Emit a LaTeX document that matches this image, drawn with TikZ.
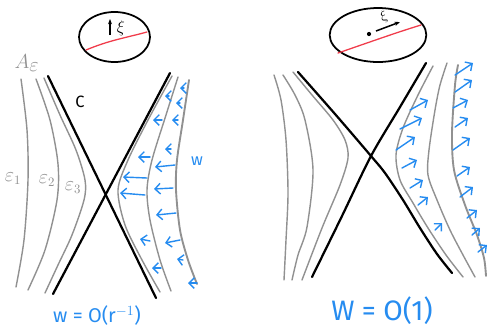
\documentclass[tikz,border=0pt]{standalone}
\usepackage{fontspec}
\setmainfont{Fira Sans}
\usetikzlibrary{arrows.meta, shapes.geometric}
\definecolor{flowblue}{RGB}{38,140,240}
\definecolor{levelgray}{RGB}{145,145,145}
\definecolor{cutred}{RGB}{240,60,75}

\begin{document}
\begin{tikzpicture}[x=0.03cm, y=-0.03cm,
    lens/.style={ellipse, draw, line width=1.5pt, inner sep=0pt},
    cut/.style={cutred, line width=1.1pt, line cap=round},
    horizon/.style={line width=1.9pt, line cap=round},
    level/.style={levelgray, line width=1.2pt, line cap=round},
    flow/.style={flowblue, line width=1.2pt, line cap=round, -{Straight Barb[length=1.6mm, width=3.2mm]}},
    graylabel/.style={levelgray, font=\fontsize{16}{18}\selectfont},
    bluelabel/.style={flowblue, font=\fontsize{17}{20}\selectfont}
]
    \useasboundingbox (0,0) rectangle (489,328);

    % Left: lens with cut and xi
    \node[lens, minimum width=2.13cm, minimum height=1.5cm] (lensL) at (114.5,37) {};
    \draw[cut] (86,50) .. controls (110,40) and (125,38) .. (147,32);
    \coordinate (xiLa) at (110,35);
    \coordinate (xiLb) at (110,19);
    \draw[line width=1.3pt, -{Stealth[length=1.6mm]}] (xiLa) -- (xiLb);
    \node[font=\fontsize{15}{17}\selectfont] (xiL) at (121,28) {$\xi$};

    % Left: horizon
    \coordinate (cLa) at (48,76);
    \coordinate (cLb) at (156,298);
    \coordinate (cLc) at (170,73);
    \coordinate (cLd) at (53,294);
    \draw[horizon] (cLa) -- (cLb);
    \draw[horizon] (cLc) -- (cLd);
    \node[font=\fontsize{14}{16}\selectfont] (cL) at (80,102) {C};

    % Left: level sets
    \draw[level] plot[smooth] coordinates {(21,79) (27,130) (28,180) (24,240) (16,287)};
    \draw[level] plot[smooth] coordinates {(36,79) (50,120) (58,164) (57,200) (45,250) (28,290)};
    \draw[level] plot[smooth] coordinates {(44,78) (60,115) (76,150) (85,180) (84,200) (72,235) (58,265) (45,293)};
    \draw[level] plot[smooth] coordinates {(172,76) (148,120) (128,160) (118,190) (125,225) (142,260) (160,292)};
    \draw[level] plot[smooth] coordinates {(178,77) (166,115) (152,160) (147,190) (150,220) (160,260) (171,291)};
    \draw[level, line width=1.6pt] plot[smooth] coordinates {(189,80) (183,120) (177,160) (176,190) (180,230) (188,260) (197,284)};
    \node[graylabel, font=\fontsize{18}{20}\selectfont] (aeps) at (27,63) {$A_{\textstyle\varepsilon}$};
    \node[graylabel] (eps1) at (13,179) {$\varepsilon_1$};
    \node[graylabel] (eps2) at (47,181) {$\varepsilon_2$};
    \node[graylabel] (eps3) at (73,188) {$\varepsilon_3$};

    % Left: w field
    \foreach \xa/\ya/\xb/\yb in {169/96/165/96, 184/88/180/88, 180/103/176/103,
        162/120/153/120, 178/120/172/120, 171/149/165/149, 150/157/138/157,
        175/165/155/167, 147/178/123/177, 173/188/154/189, 145/195/120/193,
        176/213/156/215, 180/240/165/243, 150/241/140/239, 183/260/177/259,
        161/268/152/268, 197/283/188/283}
        \draw[flow] (\xa,\ya) -- (\xb,\yb);
    \node[bluelabel, font=\fontsize{14}{16}\selectfont] (wL) at (197,161) {w};
    \node[bluelabel] (rateL) at (97,316) {w = O(r$^{-1}$)};

    % Right: lens with cut and xi
    \node[lens, minimum width=2.9cm, minimum height=1.62cm] (lensR) at (378,35) {};
    \draw[cut] (338,53) .. controls (370,42) and (395,33) .. (421,25);
    \fill (369,34) circle[radius=1.8pt];
    \coordinate (xiRa) at (376,31);
    \coordinate (xiRb) at (400,22);
    \draw[line width=1.3pt, -{Stealth[length=1.6mm]}] (xiRa) -- (xiRb);
    \node[font=\fontsize{13}{15}\selectfont, rotate=25] (xiR) at (384,17) {$\xi$};

    % Right: horizon
    \draw[horizon] plot[smooth] coordinates {(298,72) (335,114) (371,156) (385,173) (403,200) (420,228) (437,254) (452,273)};
    \draw[horizon] plot[smooth] coordinates {(312,277) (342,216) (371,156) (400,107) (426,63)};

    % Right: level sets
    \draw[level] plot[smooth] coordinates {(274,75) (281,100) (286,140) (288,193) (286,240) (284,280)};
    \draw[level] plot[smooth] coordinates {(283,75) (295,95) (305,120) (313,170) (307,227) (298,255) (292,280)};
    \draw[level] plot[smooth] coordinates {(293,72) (312,95) (333,120) (345,140) (348,158) (340,185) (322,228) (302,280)};
    \draw[level] plot[smooth] coordinates {(433,66) (418,95) (403,128) (396,155) (400,180) (413,203) (428,228) (446,255) (463,277)};
    \draw[level] plot[smooth] coordinates {(447,63) (440,85) (435,110) (429,150) (428,175) (437,200) (450,230) (463,255) (475,277)};
    \draw[level, line width=1.6pt] plot[smooth] coordinates {(458,65) (455,85) (452,133) (454,170) (465,205) (477,235) (484,258) (486,276)};

    % Right: W field
    \foreach \xa/\ya/\xb/\yb in {410/110/428/100, 400/129/422/118, 396/150/415/137,
        402/168/417/160, 410/188/423/180, 418/205/428/197, 435/230/442/223,
        455/75/473/63, 455/92/472/80, 453/108/468/100, 455/127/468/118,
        453/150/470/138, 457/176/470/167, 460/197/473/187, 467/218/477/210,
        472/235/480/228, 478/252/487/245}
        \draw[flow] (\xa,\ya) -- (\xb,\yb);
    \node[bluelabel, font=\fontsize{24}{28}\selectfont] (rateR) at (382,311) {W = O(1)};
\end{tikzpicture}
\end{document}
